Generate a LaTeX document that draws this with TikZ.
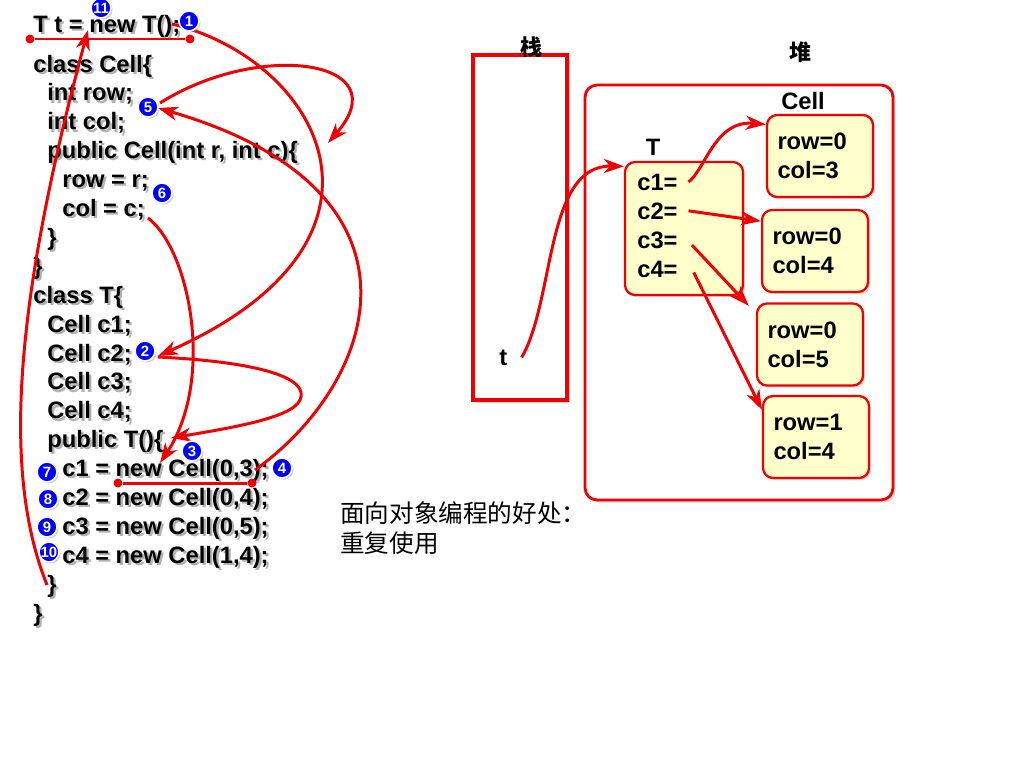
\documentclass[tikz,border=0pt]{standalone}
\usepackage{fontspec}
\setmainfont{Liberation Sans}
\newfontfamily\cjk{Noto Sans CJK SC}
\usepackage{tikz}
\usetikzlibrary{positioning}
\usetikzlibrary{arrows.meta}
\usetikzlibrary{shadows}

\definecolor{boxyellow}{RGB}{255,255,204}
\definecolor{linkred}{RGB}{240,0,0}

\tikzset{
  code/.style={anchor=base west, inner sep=0pt, font=\bfseries\fontsize{13.5}{16}\selectfont},
  code shadow/.style={code, text=black!30, xshift=1.3pt, yshift=-1.3pt},
  field/.style={anchor=base west, inner sep=0pt, font=\bfseries\fontsize{13.5}{16}\selectfont},
  title/.style={inner sep=0pt, font=\bfseries\fontsize{13.5}{16}\selectfont},
  cjktitle/.style={inner sep=0pt, font=\cjk\bfseries\fontsize{12.5}{14}\selectfont},
  note/.style={anchor=base west, inner sep=0pt, font=\cjk\fontsize{14}{16}\selectfont},
  badge/.style={circle, fill=blue, draw=white, line width=0.9pt, text=white, inner sep=0pt,
    minimum size=0.4cm, font=\bfseries\fontsize{8.5}{9}\selectfont,
    drop shadow={opacity=0.4, shadow xshift=0.9pt, shadow yshift=-0.9pt}},
  flow/.style={draw=linkred, line width=1.7pt, -{Stealth[length=4mm,width=2.8mm,inset=1.2mm]}},
  dot/.style={circle, fill=linkred, inner sep=0pt, minimum size=0.18cm},
  mark line/.style={draw=linkred, line width=1.7pt},
  stackbox/.style={draw=linkred, line width=1.8pt, fill=white, minimum width=1.88cm, minimum height=6.9cm,
    drop shadow={opacity=0.3, shadow xshift=1.5pt, shadow yshift=-1.5pt}},
  heapbox/.style={draw=linkred, line width=1.6pt, fill=white, rounded corners=0.24cm,
    minimum width=6.16cm, minimum height=8.3cm,
    drop shadow={opacity=0.3, shadow xshift=1.5pt, shadow yshift=-1.5pt}},
  tbox/.style={draw=linkred, line width=1.3pt, fill=boxyellow, rounded corners=0.2cm,
    minimum width=2.36cm, minimum height=2.66cm,
    drop shadow={opacity=0.3, shadow xshift=1.2pt, shadow yshift=-1.2pt}},
  cellbox/.style={draw=linkred, line width=1.3pt, fill=boxyellow, rounded corners=0.2cm,
    minimum width=2.12cm, minimum height=1.64cm, text width=1.7cm, align=left,
    font=\bfseries\fontsize{13.5}{16.5}\selectfont,
    drop shadow={opacity=0.3, shadow xshift=1.2pt, shadow yshift=-1.2pt}}
}

% one line of code with its soft shadow
\newcommand\codeline[3]{%
  \node[code shadow] at (#2) {#3};
  \node[code] (#1) at (#2) {#3};}

\begin{document}
\begin{tikzpicture}[x=0.02cm, y=-0.02cm]
    \useasboundingbox (0,0) rectangle (1024,768);
    % code on the left
    \codeline{l0}{33,32}{T t = new T();}
    \codeline{l1}{33,72}{class Cell\{}
    \codeline{l2}{47,100.9}{int row;}
    \codeline{l3}{47,129.8}{int col;}
    \codeline{l4}{47,158.7}{public Cell(int r, int c)\{}
    \codeline{l5}{62,187.6}{row = r;}
    \codeline{l6}{62,216.5}{col = c;}
    \codeline{l7}{47,245.4}{\}}
    \codeline{l8}{33,274.3}{\}}
    \codeline{l9}{33,303.2}{class T\{}
    \codeline{l10}{47,332.1}{Cell c1;}
    \codeline{l11}{47,361}{Cell c2;}
    \codeline{l12}{47,389.9}{Cell c3;}
    \codeline{l13}{47,418.8}{Cell c4;}
    \codeline{l14}{47,447.7}{public T()\{}
    \codeline{l15}{62,476.6}{c1 = new Cell(0,3);}
    \codeline{l16}{62,505.5}{c2 = new Cell(0,4);}
    \codeline{l17}{62,534.4}{c3 = new Cell(0,5);}
    \codeline{l18}{62,563.3}{c4 = new Cell(1,4);}
    \codeline{l19}{47,592.2}{\}}
    \codeline{l20}{33,621.1}{\}}

    % underlines with end dots
    \node[dot] (u1a) at (30,39) {};
    \node[dot] (u1b) at (190,39) {};
    \draw[mark line] (u1a) -- (u1b);
    \node[dot] (u2a) at (118,483) {};
    \node[dot] (u2b) at (252,483) {};
    \draw[mark line] (u2a) -- (u2b);

    % order of execution
    \coordinate (newT) at (172,24);
    \coordinate (toc2) at (158,356);
    \draw[flow] (newT) .. controls (320,60) and (420,240) .. (toc2);
    \coordinate (fromc2) at (158,357);
    \coordinate (toT) at (171,438);
    \draw[flow] (fromc2) .. controls (260,362) and (310,378) .. (300,400) .. controls (292,418) and (230,428) .. (toT);
    \coordinate (colc) at (148,218);
    \coordinate (toc1) at (160,463);
    \draw[flow] (colc) .. controls (190,250) and (215,380) .. (toc1);
    \coordinate (from4) at (255,470);
    \coordinate (to5) at (158,108);
    \draw[flow] (from4) .. controls (380,380) and (440,190) .. (to5);
    \coordinate (from5) at (160,103);
    \coordinate (toCell) at (328,143);
    \draw[flow] (from5) .. controls (260,40) and (400,60) .. (toCell);
    \coordinate (endT) at (47,585);
    \coordinate (to11) at (88,30);
    \draw[flow] (endT) .. controls (5,480) and (10,320) .. (to11);

    % step numbers
    \node[badge] (b1) at (189,21) {1};
    \node[badge] (b2) at (145,351) {2};
    \node[badge] (b3) at (192,451) {3};
    \node[badge] (b4) at (282,468) {4};
    \node[badge] (b5) at (148,107) {5};
    \node[badge] (b6) at (162,193) {6};
    \node[badge] (b7) at (47,472) {7};
    \node[badge] (b8) at (48,499) {8};
    \node[badge] (b9) at (47,527) {9};
    \node[badge] (b10) at (49,552) {10};
    \node[badge] (b11) at (101,8) {11};

    % stack and heap
    \node[stackbox] (stack) at (520,227.5) {};
    \node[cjktitle] (stacklbl) at (531,47) {栈};
    \node[cjktitle] (heaplbl) at (800,52) {堆};
    \node[heapbox] (heap) at (739,292.5) {};
    \node[title] (celllbl) at (803,101) {Cell};
    \node[title] (tlbl) at (653,147) {T};
    \node[field] (t) at (499,365) {t};

    \node[tbox] (tobj) at (684,228.5) {};
    \node[field] (c1) at (637,190) {c1=};
    \node[field] (c2) at (637,219) {c2=};
    \node[field] (c3) at (637,248) {c3=};
    \node[field] (c4) at (637,277) {c4=};

    \node[cellbox] (cellA) at (820,156) {row=0\\col=3};
    \node[cellbox] (cellB) at (815,251) {row=0\\col=4};
    \node[cellbox] (cellC) at (810,344.5) {row=0\\col=5};
    \node[cellbox] (cellD) at (816,437) {row=1\\col=4};

    \draw[flow] ([xshift=8pt]t.east) .. controls (555,300) and (545,165) .. ([yshift=4pt]tobj.west |- c1.north);
    \draw[flow] ([xshift=6pt]c1.east) .. controls (705,170) and (715,120) .. ([yshift=-6pt]cellA.north west);
    \draw[flow] ([xshift=6pt]c2.east) -- ([yshift=17pt]cellB.west);
    \draw[flow] ([xshift=8pt,yshift=-3pt]c3.east) -- ([xshift=-4pt,yshift=-2pt]cellC.north west);
    \draw[flow] ([xshift=9pt,yshift=-2pt]c4.east) -- ([yshift=-8.5pt]cellD.north west);

    % note
    \node[note] (note1) at (340,522) {面向对象编程的好处：};
    \node[note] (note2) at (340,552) {重复使用};
\end{tikzpicture}
\end{document}
